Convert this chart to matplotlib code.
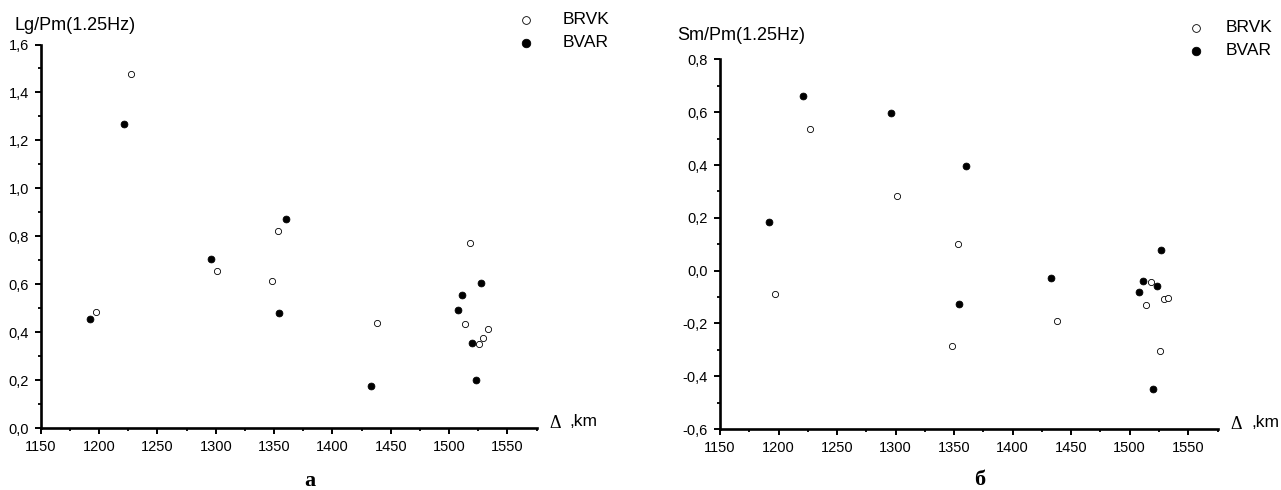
import matplotlib
matplotlib.use("Agg")
import matplotlib.pyplot as plt
from matplotlib.ticker import MultipleLocator, FuncFormatter

plt.rcParams["font.family"] = ["Liberation Sans", "DejaVu Sans"]

# distance, km and ratio values
brvk_dist = [1197, 1227, 1301, 1348, 1353, 1438, 1514, 1518, 1526, 1529, 1533]
bvar_dist = [1192, 1221, 1296, 1354, 1360, 1433, 1508, 1511, 1520, 1523, 1527]

# panel a: Lg/Pm
brvk_lg = [0.485, 1.475, 0.655, 0.615, 0.823, 0.44, 0.434, 0.772, 0.35, 0.377, 0.414]
bvar_lg = [0.456, 1.27, 0.705, 0.48, 0.873, 0.176, 0.493, 0.553, 0.355, 0.202, 0.605]

# panel b: Sm/Pm
brvk_sm = [-0.089, 0.536, 0.283, -0.285, 0.1, -0.191, -0.132, -0.043, -0.303, -0.108, -0.104]
bvar_sm = [0.184, 0.66, 0.598, -0.127, 0.395, -0.027, -0.082, -0.038, -0.45, -0.058, 0.079]

W, H = 1281, 490
fig = plt.figure(figsize=(W / 100, H / 100), dpi=100)

comma = FuncFormatter(lambda v, p: ("%.1f" % v).replace(".", ","))


def fx(px):
    return px / W


def fy(py):
    return 1 - py / H


def style(ax, ylo, yhi):
    ax.set_xlim(1150, 1575)
    ax.set_ylim(ylo, yhi)
    for s in ["top", "right"]:
        ax.spines[s].set_visible(False)
    for s in ["left", "bottom"]:
        ax.spines[s].set_linewidth(1.9)
    ax.xaxis.set_major_locator(MultipleLocator(50))
    ax.xaxis.set_minor_locator(MultipleLocator(25))
    ax.yaxis.set_major_locator(MultipleLocator(0.2))
    ax.yaxis.set_minor_locator(MultipleLocator(0.1))
    ax.yaxis.set_major_formatter(comma)
    ax.tick_params(which="major", direction="out", length=4.3, width=1.4,
                   labelsize=10.5, pad=4.3)
    ax.tick_params(which="minor", direction="out", length=2.4, width=1.3)


def draw(ax, ys_open, ys_fill):
    ax.scatter(brvk_dist, ys_open, s=20, facecolors="white", edgecolors="black",
               linewidths=0.6, label="BRVK", clip_on=False, zorder=3)
    ax.scatter(bvar_dist, ys_fill, s=24, facecolors="black", edgecolors="black",
               linewidths=0.6, label="BVAR", clip_on=False, zorder=3)


# panel a
ax1 = fig.add_axes([fx(40.8), fy(428), fx(536.6 - 40.8), (428 - 44.5) / H])
draw(ax1, brvk_lg, bvar_lg)
style(ax1, 0.0, 1.6)

# panel b
ax2 = fig.add_axes([fx(720), fy(429), fx(1217.5 - 720), (429 - 59.5) / H])
draw(ax2, brvk_sm, bvar_sm)
style(ax2, -0.6, 0.8)

fig.text(fx(15), fy(25), "Lg/Pm(1.25Hz)", fontsize=13, va="center", ha="left")
fig.text(fx(677), fy(35), "Sm/Pm(1.25Hz)", fontsize=13, va="center", ha="left")

for x_d, x_k, y in [(549, 569, 422), (1230, 1251, 423)]:
    fig.text(fx(x_d), fy(y + 1), "\u0394", fontsize=13, family="Liberation Serif",
             va="center", ha="left")
    fig.text(fx(x_k), fy(y - 1), ",km", fontsize=12.5, va="center", ha="left")

fig.text(fx(310), fy(481), "а", fontsize=16, family="Liberation Serif",
         weight="bold", ha="center", va="center")
fig.text(fx(980), fy(480), "б", fontsize=16, family="Liberation Serif",
         weight="bold", ha="center", va="center")

leg_kw = dict(frameon=False, handlelength=1.0, borderpad=0, borderaxespad=0,
              fontsize=12.5, markerscale=1.25, bbox_transform=fig.transFigure,
              loc="upper left", labelspacing=0.45)
# marker centre = anchor x + 0.5 handle length (17.4 px per em)
ax1.legend(bbox_to_anchor=(fx(526.5 - 8.7), fy(12)), handletextpad=1.6, **leg_kw)
ax2.legend(bbox_to_anchor=(fx(1195.7 - 8.7), fy(20)), handletextpad=1.2, **leg_kw)

fig.savefig("out.png", dpi=100)
